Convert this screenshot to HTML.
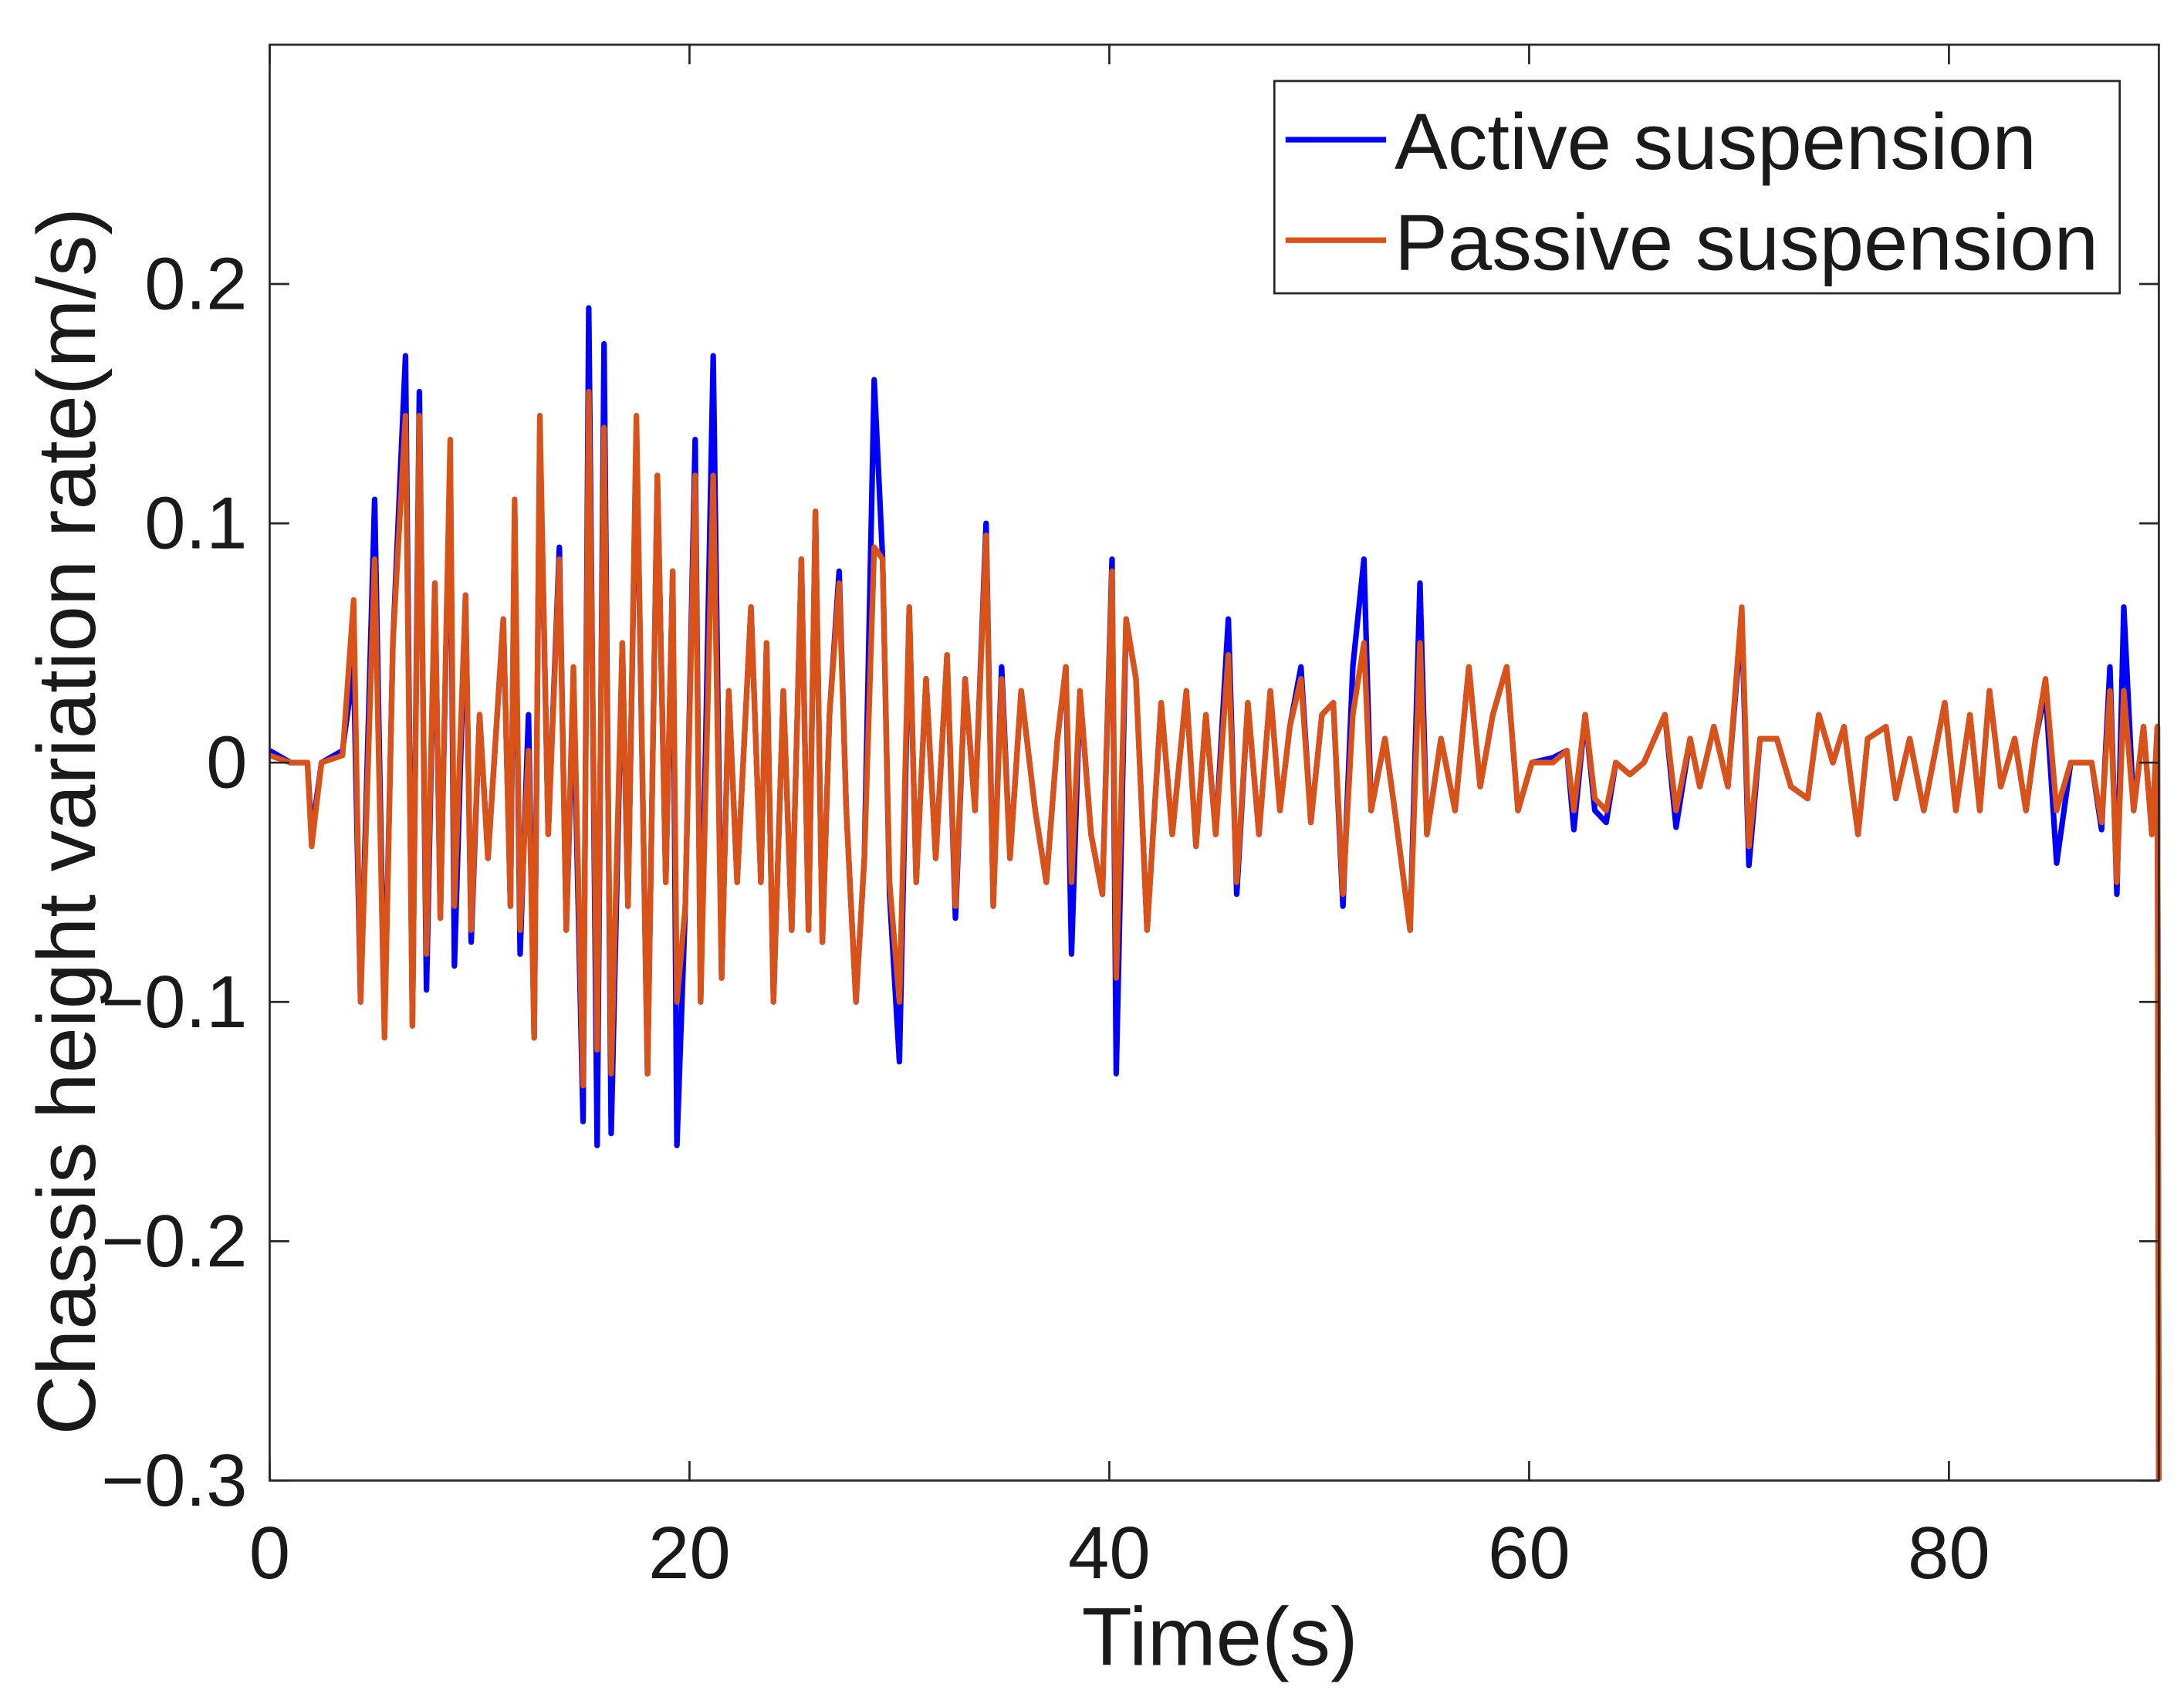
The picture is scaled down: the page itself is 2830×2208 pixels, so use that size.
<!DOCTYPE html>
<html><head><meta charset="utf-8"><style>
html,body{margin:0;padding:0;background:#fff;}
svg{display:block;}
text{font-family:"Liberation Sans",sans-serif;fill:#1a1a1a;}
</style></head><body>
<svg id="chart" width="2830" height="2208" viewBox="0 0 1563 1220" preserveAspectRatio="none" xmlns="http://www.w3.org/2000/svg">
<rect x="0" y="0" width="1563" height="1220" fill="#fff"/>
<g id="plot"></g>
<g id="axes"></g>
<text x="873" y="1192" font-size="59" text-anchor="middle">Time(s)</text>
<text transform="translate(68,588) rotate(-90)" font-size="59" text-anchor="middle">Chassis height variation rate(m/s)</text>
<g>
<rect x="912" y="58" width="605" height="152" fill="#fff" stroke="#262626" stroke-width="1.5"/>
<line x1="920" y1="100" x2="992" y2="100" stroke="#0000ff" stroke-width="4"/>
<text x="998" y="121" font-size="57">Active suspension</text>
<line x1="920" y1="172" x2="992" y2="172" stroke="#d95319" stroke-width="4"/>
<text x="998" y="193" font-size="57">Passive suspension</text>
</g>
</svg>
<script>
const times=[0,1,1.8,2,2.47,3.47,4,4.33,5,5.47,5.87,6.47,6.8,7.13,7.47,7.87,8.13,8.6,8.8,9.33,9.6,10,10.4,11.13,11.47,11.67,11.93,12.33,12.6,12.87,13.27,13.8,14.13,14.47,14.93,15.2,15.6,15.93,16.27,16.8,17.07,17.47,18,18.47,18.87,19.2,19.4,19.8,20.27,20.53,21.13,21.53,21.87,22.27,22.93,23.4,23.67,24,24.47,24.87,25.33,25.67,26,26.33,26.67,27.13,27.47,27.93,28.33,28.8,29.2,29.53,30,30.47,30.8,31.27,31.73,32.27,32.67,33.13,33.6,34.13,34.47,34.87,35.27,35.8,36.47,37,37.53,37.93,38.2,38.6,39.13,39.67,40.13,40.33,40.8,41.27,41.8,42.47,43,43.67,44.13,44.6,45.07,45.67,46.07,46.6,47.13,47.67,48.13,48.6,49.13,49.6,50.13,50.67,51.13,51.6,52.13,52.47,53.13,53.6,54.33,54.8,55.13,55.8,56.47,57.13,57.67,58.27,58.93,59.47,60.13,61.13,61.8,62.13,62.67,63.13,63.67,64.13,64.8,65.47,66.47,67,67.67,68.13,68.8,69.47,70.13,70.47,71,71.8,72.47,73.27,73.8,74.47,75,75.67,76.13,77,77.47,78.13,78.8,79.8,80.33,81,81.47,81.93,82.47,83.13,83.67,84.13,84.6,85.13,85.8,86.8,87.27,87.67,88,88.33,88.8,89.27,89.67,89.93,90];
const passive=[0.003,0,0,-0.035,0,0.003,0.068,-0.1,0.085,-0.115,0.05,0.145,-0.11,0.145,-0.08,0.075,-0.065,0.135,-0.06,0.07,-0.07,0.02,-0.04,0.06,-0.06,0.11,-0.07,0.005,-0.115,0.145,-0.03,0.085,-0.07,0.04,-0.135,0.155,-0.12,0.14,-0.13,0.05,-0.06,0.145,-0.13,0.12,-0.05,0.08,-0.1,-0.06,0.12,-0.1,0.12,-0.09,0.03,-0.05,0.065,-0.05,0.05,-0.1,0.03,-0.07,0.085,-0.07,0.105,-0.075,0.02,0.075,-0.02,-0.1,-0.04,0.09,0.085,-0.05,-0.1,0.065,-0.05,0.035,-0.04,0.045,-0.06,0.035,-0.02,0.095,-0.06,0.035,-0.04,0.03,-0.02,-0.05,0.01,0.04,-0.05,0.03,-0.03,-0.055,0.08,-0.09,0.06,0.035,-0.07,0.025,-0.03,0.03,-0.035,0.02,-0.03,0.045,-0.05,0.025,-0.03,0.03,-0.02,0.015,0.035,-0.025,0.02,0.025,-0.055,0.02,0.05,-0.02,0.01,-0.02,-0.07,0.05,-0.03,0.01,-0.02,0.04,-0.01,0.02,0.04,-0.02,0,0,0.005,-0.02,0.02,-0.015,-0.02,0,-0.005,0,0.02,-0.02,0.01,-0.01,0.015,-0.01,0.065,-0.035,0.01,0.01,-0.01,-0.015,0.02,0,0.015,-0.03,0.01,0.015,-0.015,0.01,-0.02,0.025,-0.02,0.02,-0.02,0.03,-0.01,0.01,-0.02,0.01,0.035,-0.02,0,0,-0.025,0.03,-0.05,0.03,-0.02,0.015,-0.03,0.015,-0.3];
const active=[0.005,0,0,-0.03,0,0.005,0.04,-0.1,0.11,-0.11,0.05,0.17,-0.11,0.155,-0.095,0.075,-0.065,0.13,-0.085,0.07,-0.075,0.02,-0.04,0.06,-0.06,0.105,-0.08,0.02,-0.115,0.14,-0.03,0.09,-0.07,0.03,-0.15,0.19,-0.16,0.175,-0.155,0.05,-0.06,0.14,-0.13,0.12,-0.05,0.08,-0.16,-0.06,0.135,-0.1,0.17,-0.09,0.03,-0.05,0.065,-0.05,0.05,-0.1,0.03,-0.07,0.085,-0.07,0.105,-0.075,0.02,0.08,-0.02,-0.1,-0.04,0.16,0.085,-0.055,-0.125,0.065,-0.05,0.035,-0.04,0.045,-0.065,0.035,-0.02,0.1,-0.06,0.04,-0.04,0.03,-0.02,-0.05,0.01,0.04,-0.08,0.03,-0.03,-0.055,0.085,-0.13,0.06,0.035,-0.07,0.025,-0.03,0.03,-0.035,0.02,-0.03,0.06,-0.055,0.025,-0.03,0.03,-0.02,0.015,0.04,-0.025,0.02,0.025,-0.06,0.04,0.085,-0.02,0.01,-0.02,-0.07,0.075,-0.03,0.01,-0.02,0.04,-0.01,0.02,0.04,-0.02,0,0.002,0.005,-0.028,0.02,-0.02,-0.025,0,-0.005,0,0.02,-0.027,0.01,-0.01,0.015,-0.01,0.06,-0.043,0.01,0.01,-0.01,-0.015,0.02,0,0.015,-0.03,0.01,0.015,-0.015,0.01,-0.02,0.025,-0.02,0.02,-0.02,0.03,-0.01,0.01,-0.02,0.01,0.03,-0.042,0,0,-0.028,0.04,-0.055,0.065,-0.02,0.015,-0.03,0.015,-0.3];
const xTicks=[0,20,40,60,80];
const yTicks=[0.2,0.1,0,-0.1,-0.2,-0.3];
const yTickLabels=["0.2","0.1","0","\u22120.1","\u22120.2","\u22120.3"];

const NS="http://www.w3.org/2000/svg";
const L=193,R=1545,T=32,B=1060,XMAX=90,YMIN=-0.3,YMAX=0.3;
function xs(t){return L+(t/XMAX)*(R-L);}
function ys(v){return B-(v-YMIN)/(YMAX-YMIN)*(B-T);}
function mk(tag,attrs,parent){const e=document.createElementNS(NS,tag);for(const k in attrs)e.setAttribute(k,attrs[k]);parent.appendChild(e);return e;}
const plot=document.getElementById('plot'),axes=document.getElementById('axes');
function series(vals,color,name){
  let d='';
  for(let i=0;i<times.length;i++){d+=(i?'L':'M')+xs(times[i]).toFixed(2)+' '+ys(vals[i]).toFixed(2);}
  const p=mk('path',{d:d,fill:'none',stroke:color,'stroke-width':4,'stroke-linejoin':'round'},plot);
  
  
}
series(active,'#0000ff','active-suspension-line');
series(passive,'#d95319','passive-suspension-line');
const box=mk('rect',{x:L,y:T,width:R-L,height:B-T,fill:'none',stroke:'#262626','stroke-width':1.5},axes);


xTicks.forEach(function(t){
  const x=xs(t);
  const l1=mk('line',{x1:x,y1:B,x2:x,y2:B-14,stroke:'#262626','stroke-width':1.5},axes);
  
  
  const l2=mk('line',{x1:x,y1:T,x2:x,y2:T+14,stroke:'#262626','stroke-width':1.5},axes);
  
  
  const tx=mk('text',{x:x,y:B+70,'font-size':53,'text-anchor':'middle'},axes);
  tx.textContent=String(t);
  
  
});
yTicks.forEach(function(v,i){
  const y=ys(v);
  const l1=mk('line',{x1:L,y1:y,x2:L+14,y2:y,stroke:'#262626','stroke-width':1.5},axes);
  
  
  const l2=mk('line',{x1:R,y1:y,x2:R-14,y2:y,stroke:'#262626','stroke-width':1.5},axes);
  
  
  const tx=mk('text',{x:L-16,y:y+18,'font-size':53,'text-anchor':'end'},axes);
  tx.textContent=yTickLabels[i];
  
  
});
</script>
</body></html>
